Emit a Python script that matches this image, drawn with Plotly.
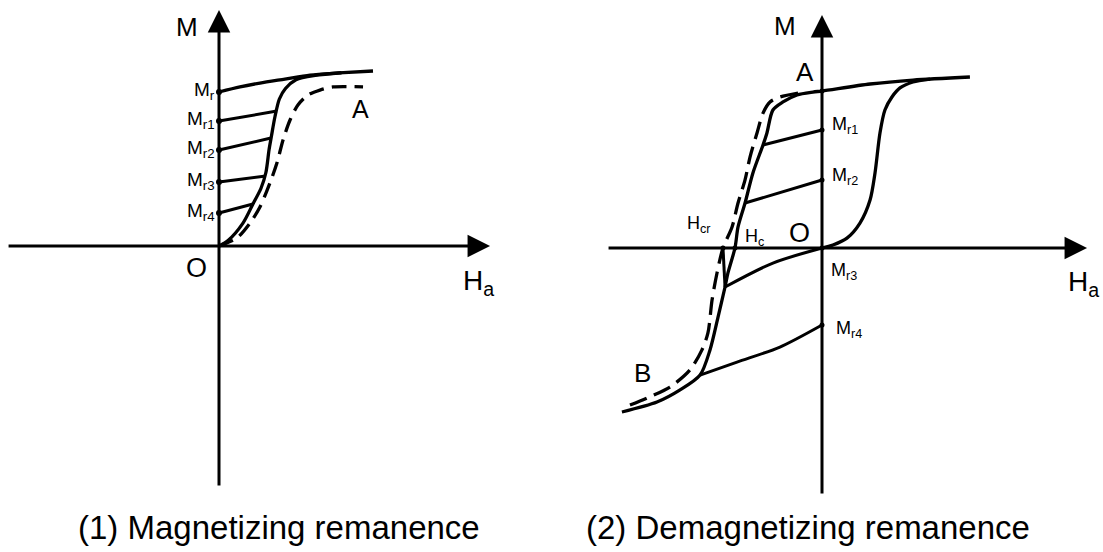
import plotly.graph_objects as go

# ---------------- Panel (1): magnetizing remanence ----------------
# major (saturated) branch coming down from saturation to Mr
mag_upper_h = [0.0, 0.12, 0.234, 0.377, 0.52, 0.686, 0.88]
mag_upper_m = [0.88, 0.909, 0.931, 0.954, 0.977, 0.989, 1.0]
# magnetizing curve rising from the origin
mag_rise_h = [0.0, 0.05, 0.137, 0.194, 0.24, 0.268, 0.286, 0.30, 0.32, 0.345, 0.38, 0.44, 0.55, 0.70]
mag_rise_m = [0.0, 0.03, 0.131, 0.24, 0.33, 0.42, 0.55, 0.63, 0.74, 0.84, 0.90, 0.95, 0.975, 0.99]
# dashed curve A
mag_dash_h = [0.0, 0.017, 0.103, 0.177, 0.234, 0.291, 0.331, 0.366, 0.406, 0.451, 0.509, 0.577, 0.651, 0.823]
mag_dash_m = [0.0, 0.006, 0.046, 0.131, 0.223, 0.36, 0.474, 0.606, 0.72, 0.806, 0.863, 0.891, 0.909, 0.909]
# remanence levels on the M axis and the field points the recoil lines start from
mag_mr_levels = [0.88, 0.714, 0.549, 0.366, 0.189]
mag_mr_labels = ["M<sub>r</sub>", "M<sub>r1</sub>", "M<sub>r2</sub>", "M<sub>r3</sub>", "M<sub>r4</sub>"]
mag_recoil_start_h = [0.331, 0.297, 0.268, 0.194]
mag_recoil_start_m = [0.771, 0.617, 0.40, 0.24]

# ---------------- Panel (2): demagnetizing remanence ----------------
dem_upper_h = [0.865, 0.532, 0.281, 0.0, -0.053, -0.146, -0.228, -0.287, -0.322, -0.345, -0.404,
               -0.45, -0.491, -0.509, -0.55, -0.567, -0.608, -0.655, -0.713, -0.83, -0.965, -1.17]
dem_upper_m = [1.0, 0.982, 0.959, 0.918, 0.912, 0.895, 0.854, 0.807, 0.673, 0.602, 0.439,
               0.263, 0.123, 0.0, -0.146, -0.228, -0.404, -0.596, -0.743, -0.83, -0.901, -0.959]
dem_rise_h = [0.0, 0.064, 0.146, 0.222, 0.281, 0.31, 0.339, 0.368, 0.409, 0.456, 0.532, 0.632]
dem_rise_m = [0.0, 0.018, 0.058, 0.146, 0.281, 0.439, 0.673, 0.807, 0.883, 0.936, 0.971, 0.988]
dem_dash_h = [-0.14, -0.246, -0.304, -0.345, -0.38, -0.421, -0.45, -0.491, -0.526, -0.579,
              -0.614, -0.643, -0.667, -0.702, -0.772, -0.889, -1.023, -1.123]
dem_dash_m = [0.906, 0.883, 0.854, 0.789, 0.673, 0.532, 0.398, 0.263, 0.123, 0.0,
              -0.146, -0.304, -0.497, -0.596, -0.713, -0.813, -0.877, -0.918]
# recoil lines from the descending branch back to H = 0
dem_recoil_h = [[-0.345, 0.0], [-0.45, 0.0], [-0.567, -0.287, 0.0], [-0.713, -0.497, -0.246, 0.0]]
dem_recoil_m = [[0.602, 0.69], [0.263, 0.398], [-0.228, -0.088, 0.0], [-0.743, -0.667, -0.579, -0.45]]
dem_mr_labels = ["M<sub>r1</sub>", "M<sub>r2</sub>", "M<sub>r3</sub>", "M<sub>r4</sub>"]
dem_link_h = [-0.579, -0.567]
dem_link_m = [0.0, -0.228]
dem_hcr = -0.579
dem_hc = -0.509
dem_a_m = 0.918

captions = ["(1) Magnetizing remanence", "(2) Demagnetizing remanence"]

# ---------------- layout geometry ----------------
W, H = 1103, 552
P1_ORIGIN, P1_SCALE = (219, 246), 175.0
P2_ORIGIN, P2_SCALE = (822, 248), 171.0
SPLIT = 0.5

FONT = "Liberation Sans, Arial, Helvetica, sans-serif"
BLACK = "#000000"
LW = 3.3
LW_RECOIL = 3.0

fig = go.Figure()


def curve(x, y, xa, ya, dash=None, width=LW, shape="spline"):
    fig.add_trace(go.Scatter(
        x=x, y=y, xaxis=xa, yaxis=ya, mode="lines",
        line=dict(color=BLACK, width=width, dash=dash, shape=shape, smoothing=0.8),
        hoverinfo="skip", showlegend=False))


def dots(x, y, xa, ya, size=6):
    fig.add_trace(go.Scatter(
        x=x, y=y, xaxis=xa, yaxis=ya, mode="markers",
        marker=dict(color=BLACK, size=size), hoverinfo="skip", showlegend=False))


def label(text, x, y, xr, yr, size, xanchor="center", xshift=0, yshift=0):
    fig.add_annotation(text=text, x=x, y=y, xref=xr, yref=yr, showarrow=False,
                       xanchor=xanchor, yanchor="middle", xshift=xshift, yshift=yshift,
                       font=dict(family=FONT, size=size, color=BLACK))


def axis_arrow(x0, y0, x1, y1, xr, yr):
    fig.add_annotation(x=x1, y=y1, ax=x0, ay=y0, xref=xr, yref=yr, axref=xr, ayref=yr,
                       text="", showarrow=True, arrowhead=2, arrowsize=1.5,
                       arrowwidth=3.0, arrowcolor=BLACK, standoff=0, startstandoff=0)


# ---- panel 1 ----
axis_arrow(-1.211, 0, 1.549, 0, "x", "y")
axis_arrow(0, -1.377, 0, 1.349, "x", "y")
curve(mag_upper_h, mag_upper_m, "x", "y")
curve(mag_rise_h, mag_rise_m, "x", "y")
curve(mag_dash_h, mag_dash_m, "x", "y", dash="15px,8px")
for h_end, m_end, m0 in zip(mag_recoil_start_h, mag_recoil_start_m, mag_mr_levels[1:]):
    curve([0.0, h_end], [m0, m_end], "x", "y", width=LW_RECOIL, shape="linear")
dots([0.0] * len(mag_mr_levels), mag_mr_levels, "x", "y")
for txt, m in zip(mag_mr_labels, mag_mr_levels):
    label(txt, 0.0, m, "x", "y", 19, xanchor="right", xshift=-2, yshift=1)
label("M", -0.183, 1.251, "x", "y", 26)
label("H<sub>a</sub>", 1.48, -0.21, "x", "y", 28)
label("O", -0.126, -0.126, "x", "y", 27)
label("A", 0.806, 0.783, "x", "y", 25)
label(captions[0], 0.343, -1.606, "x", "y", 33)

# ---- panel 2 ----
axis_arrow(-1.257, 0, 1.55, 0, "x2", "y2")
axis_arrow(0, -1.444, 0, 1.363, "x2", "y2")
curve(dem_upper_h, dem_upper_m, "x2", "y2")
curve(dem_rise_h, dem_rise_m, "x2", "y2")
curve(dem_dash_h, dem_dash_m, "x2", "y2", dash="18px,8px")
curve(dem_link_h, dem_link_m, "x2", "y2", width=LW_RECOIL, shape="linear")
for rh, rm in zip(dem_recoil_h, dem_recoil_m):
    curve(rh, rm, "x2", "y2", width=LW_RECOIL)
dem_mr_levels = [rm[-1] for rm in dem_recoil_m]
dots([0.0] * len(dem_mr_levels) + [0.0, dem_hcr, dem_hc],
     dem_mr_levels + [dem_a_m, 0.0, 0.0], "x2", "y2", size=5)
label(dem_mr_labels[0], 0.0, dem_mr_levels[0], "x2", "y2", 18, xanchor="left", xshift=8, yshift=5)
label(dem_mr_labels[1], 0.0, dem_mr_levels[1], "x2", "y2", 18, xanchor="left", xshift=8, yshift=3)
label(dem_mr_labels[2], 0.0, dem_mr_levels[2], "x2", "y2", 18, xanchor="left", xshift=7, yshift=-23)
label(dem_mr_labels[3], 0.0, dem_mr_levels[3], "x2", "y2", 18, xanchor="left", xshift=12, yshift=-5)
label("M", -0.216, 1.298, "x2", "y2", 26)
label("A", -0.099, 1.029, "x2", "y2", 26)
label("H<sub>a</sub>", 1.532, -0.205, "x2", "y2", 28)
label("O", -0.129, 0.088, "x2", "y2", 27)
label("H<sub>cr</sub>", -0.719, 0.135, "x2", "y2", 18)
label("H<sub>c</sub>", -0.392, 0.064, "x2", "y2", 18)
label("B", -1.047, -0.731, "x2", "y2", 26)
label(captions[1], -0.084, -1.637, "x2", "y2", 33)


def rng(origin, scale, lo_px, hi_px):
    return [(lo_px - origin) / scale, (hi_px - origin) / scale]


hidden = dict(visible=False, showgrid=False, zeroline=False, fixedrange=True)
fig.update_layout(
    width=W, height=H, margin=dict(l=0, r=0, t=0, b=0),
    paper_bgcolor="white", plot_bgcolor="white", showlegend=False,
    xaxis=dict(domain=[0, SPLIT], range=rng(P1_ORIGIN[0], P1_SCALE, 0, W * SPLIT), **hidden),
    yaxis=dict(domain=[0, 1], range=[-(H - P1_ORIGIN[1]) / P1_SCALE, P1_ORIGIN[1] / P1_SCALE], **hidden),
    xaxis2=dict(domain=[SPLIT, 1], range=rng(P2_ORIGIN[0], P2_SCALE, W * SPLIT, W), **hidden),
    yaxis2=dict(domain=[0, 1], anchor="x2", range=[-(H - P2_ORIGIN[1]) / P2_SCALE, P2_ORIGIN[1] / P2_SCALE], **hidden),
)

fig.write_html("out.html")
